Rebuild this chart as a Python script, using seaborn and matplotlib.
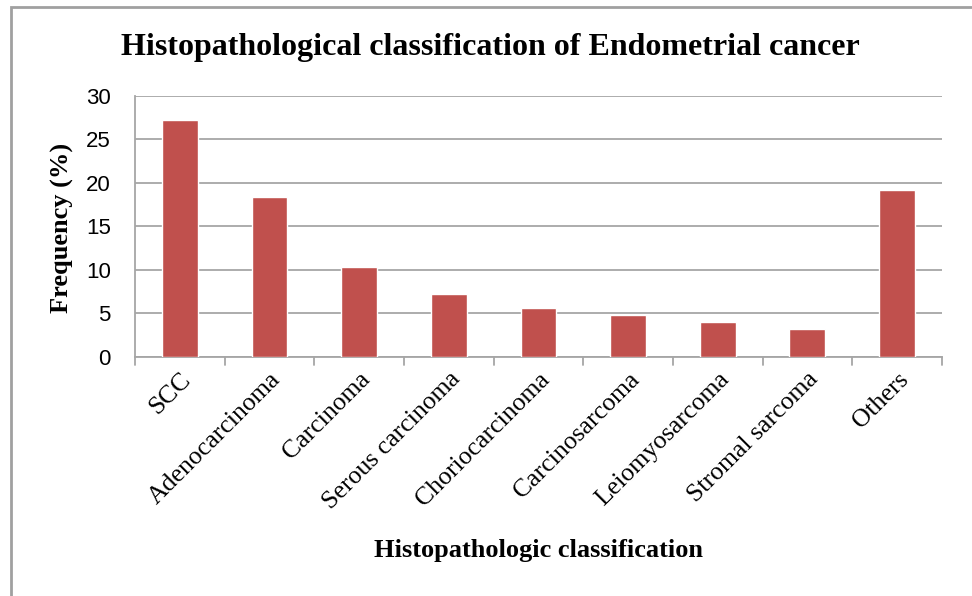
import matplotlib
matplotlib.use("Agg")
import matplotlib.pyplot as plt
import seaborn as sns
import pandas as pd
from matplotlib.patches import Rectangle

categories = ["SCC", "Adenocarcinoma", "Carcinoma", "Serous carcinoma",
              "Choriocarcinoma", "Carcinosarcoma", "Leiomyosarcoma",
              "Stromal sarcoma", "Others"]
frequency = [27.2, 18.4, 10.4, 7.2, 5.6, 4.8, 4.0, 3.2, 19.2]
y_ticks = [0, 5, 10, 15, 20, 25, 30]

df = pd.DataFrame({"cls": categories, "freq": frequency})

sns.set_style("white")
plt.rcParams["font.family"] = ["Liberation Serif", "DejaVu Serif"]
plt.rcParams["text.color"] = "black"
plt.rcParams["axes.labelcolor"] = "black"

grid_col = "#A6A6A6"

fig = plt.figure(figsize=(9.72, 5.96), dpi=100)
ax = fig.add_axes([0.139, 0.401, 0.830, 0.438])

sns.barplot(data=df, x="cls", y="freq", color="#C0504D", saturation=1,
            width=0.4, ax=ax, zorder=3)

ax.set_ylim(0, 30)
ax.set_yticks(y_ticks)
ax.set_xlim(-0.5, len(categories) - 0.5)
ax.yaxis.grid(True, color=grid_col, linewidth=1.3, zorder=0)
ax.set_axisbelow(True)

for s in ["top", "right"]:
    ax.spines[s].set_visible(False)
for s in ["left", "bottom"]:
    ax.spines[s].set_color(grid_col)
    ax.spines[s].set_linewidth(1.3)

# labels at category centres, tick marks at category boundaries
ax.set_xticks(range(len(categories)))
ax.set_xticklabels(categories, rotation=45, ha="right", rotation_mode="anchor",
                   fontsize=18.5)
ax.tick_params(axis="x", length=0, pad=8, labelcolor="black")
for b in [i - 0.5 for i in range(len(categories) + 1)]:
    ax.plot([b, b], [0, -0.9], color=grid_col, lw=1.3, clip_on=False)

ax.tick_params(axis="y", length=6.5, color=grid_col, width=1.3, pad=11,
               labelcolor="black")
for lbl in ax.get_yticklabels():
    lbl.set_fontfamily("Liberation Sans")
    lbl.set_fontsize(16)

ax.set_ylabel("")
ax.set_xlabel("")
fig.text(62 / 972, 1 - 228 / 596, "Frequency (%)", rotation=90, ha="center",
         va="center", fontsize=19, fontweight="bold")
fig.text(539 / 972, 1 - 551 / 596, "Histopathologic classification",
         ha="center", va="center", fontsize=19, fontweight="bold")
fig.text(490 / 972, 1 - 47 / 596,
         "Histopathological classification of Endometrial cancer",
         ha="center", va="center", fontsize=23, fontweight="bold")

fig.patches.append(Rectangle((11 / 972, -0.05), 1.0, 1.0 - 7 / 596 + 0.05,
                             transform=fig.transFigure, fill=False,
                             edgecolor="#A0A0A0", linewidth=2))

fig.savefig("out.png", dpi=100)
